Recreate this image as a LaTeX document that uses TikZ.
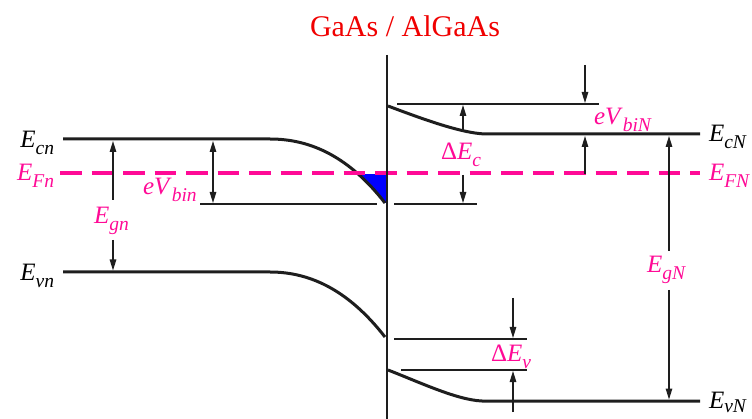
\documentclass[tikz,border=0pt]{standalone}
\usepackage{fontspec}
\setmainfont{Liberation Serif}
\usetikzlibrary{arrows.meta}
\definecolor{efpink}{RGB}{255,10,150}
\definecolor{bandk}{RGB}{30,30,30}
\definecolor{titlered}{RGB}{240,0,0}
\newcommand\lbl[2]{{\fontsize{25}{25}\selectfont #1}\raisebox{-6.5pt}{\fontsize{19.5}{19.5}\selectfont\itshape #2}}
\begin{document}
\begin{tikzpicture}[x=1pt,y=-1pt,
  band/.style={line width=3pt,bandk},
  refline/.style={line width=1.5pt,bandk},
  tipend/.style={-{Triangle[length=11pt,width=6.5pt]}},
  dimarrow/.style={line width=1.3pt,bandk,tipend},
  dimboth/.style={line width=1.3pt,bandk,{Triangle[length=11pt,width=6.5pt]}-{Triangle[length=11pt,width=6.5pt]}},
  fermi/.style={line width=4.5pt,efpink,dash pattern=on 21.5pt off 10pt},
  lab/.style={inner sep=0pt,outer sep=0pt},
  pinklab/.style={lab,text=efpink},
]
\useasboundingbox (0,0) rectangle (752,419);

% key points
\coordinate (Ecn0) at (63,139);
\coordinate (Ecn1) at (270,139);
\coordinate (Ecn2) at (385,203);
\coordinate (Evn0) at (63,272);
\coordinate (Evn1) at (270,272);
\coordinate (Evn2) at (385,337);
\coordinate (EcN0) at (388,106);
\coordinate (EcN1) at (485,134);
\coordinate (EcN2) at (700,134);
\coordinate (EvN0) at (388,370);
\coordinate (EvN1) at (482,401);
\coordinate (EvN2) at (700,401);
\coordinate (EFl) at (60,173);
\coordinate (EFr) at (700,173);
\coordinate (IfT) at (387,55);
\coordinate (IfB) at (387,419);
\coordinate (Ifm) at (387,203);
\coordinate (IfF) at (387,173);

% blue filled region
\begin{scope}
  \clip (340,175) rectangle (387,212);
  \fill[blue] (Ecn1) .. controls (312,139) and (350,158) .. (Ecn2) -- (Ifm) -- (IfF) -- cycle;
\end{scope}

% bands
\draw[band] (Ecn0) -- (Ecn1) .. controls (312,139) and (350,158) .. (Ecn2);
\draw[band] (Evn0) -- (Evn1) .. controls (312,272) and (350,292) .. (Evn2);
\draw[band] (EcN0) .. controls (420,118) and (460,133) .. (EcN1) -- (EcN2);
\draw[band] (EvN0) .. controls (419,382) and (457,400) .. (EvN1) -- (EvN2);

% Fermi level
\draw[fermi] (EFl) -- (EFr);

% interface
\draw[line width=1.5pt,bandk] (IfT) -- (IfB);

% reference lines
\coordinate (r1a) at (200,204); \coordinate (r1b) at (377,204);
\coordinate (r2a) at (394,204); \coordinate (r2b) at (477,204);
\coordinate (r3a) at (397,104); \coordinate (r3b) at (599,104);
\coordinate (r4a) at (394,339); \coordinate (r4b) at (527,339);
\coordinate (r5a) at (401,370); \coordinate (r5b) at (527,370);
\draw[refline] (r1a) -- (r1b);
\draw[refline] (r2a) -- (r2b);
\draw[refline] (r3a) -- (r3b);
\draw[refline] (r4a) -- (r4b);
\draw[refline] (r5a) -- (r5b);

% arrows
\coordinate (a1s) at (113,200); \coordinate (a1e) at (113,141);
\coordinate (a2s) at (113,240); \coordinate (a2e) at (113,270.5);
\coordinate (a3s) at (213,141); \coordinate (a3e) at (213,203);
\coordinate (a4s) at (463,132); \coordinate (a4e) at (463,105);
\coordinate (a5s) at (463,175); \coordinate (a5e) at (463,203);
\coordinate (a6s) at (585,65);  \coordinate (a6e) at (585,103);
\coordinate (a7s) at (585,174); \coordinate (a7e) at (585,136);
\coordinate (a8s) at (669,251); \coordinate (a8e) at (669,136);
\coordinate (a9s) at (669,290); \coordinate (a9e) at (669,399.5);
\coordinate (a10s) at (513,298); \coordinate (a10e) at (513,338);
\coordinate (a11s) at (513,412); \coordinate (a11e) at (513,371);
\draw[dimarrow] (a1s) -- (a1e);
\draw[dimarrow] (a2s) -- (a2e);
\draw[dimboth] (a3s) -- (a3e);
\draw[dimarrow] (a4s) -- (a4e);
\draw[dimarrow] (a5s) -- (a5e);
\draw[dimarrow] (a6s) -- (a6e);
\draw[dimarrow] (a7s) -- (a7e);
\draw[dimarrow] (a8s) -- (a8e);
\draw[dimarrow] (a9s) -- (a9e);
\draw[dimarrow] (a10s) -- (a10e);
\draw[dimarrow] (a11s) -- (a11e);

% labels
\node[lab,anchor=base,text=titlered,font=\fontsize{30}{30}\selectfont] (title) at (405,37) {GaAs / AlGaAs};
\node[lab,anchor=base east] (Ecnl) at (54,148) {\lbl{\textit{E}}{cn}};
\node[pinklab,anchor=base east] (EFnl) at (54,181) {\lbl{\textit{E}}{Fn}};
\node[lab,anchor=base east] (Evnl) at (54,281) {\lbl{\textit{E}}{vn}};
\node[lab,anchor=base west] (EcNl) at (709,142) {\lbl{\textit{E}}{cN}};
\node[pinklab,anchor=base west] (EFNl) at (709,181) {\lbl{\textit{E}}{FN}};
\node[lab,anchor=base west] (EvNl) at (709,408) {{\fontsize{25}{25}\selectfont\textit{E}}\raisebox{-4.5pt}{\fontsize{19.5}{19.5}\selectfont\itshape vN}};
\node[pinklab,anchor=base west] (Egnl) at (94,224) {\lbl{\textit{E}}{gn}};
\node[pinklab,anchor=base west] (eVbinl) at (143,195) {\lbl{\textit{eV}}{bin}};
\node[pinklab,anchor=base west] (dEcl) at (441,160) {\lbl{Δ\textit{E}}{c}};
\node[pinklab,anchor=base west] (eVbiNl) at (594,125) {\lbl{\textit{eV}}{biN}};
\node[pinklab,anchor=base west] (EgNl) at (647,273) {\lbl{\textit{E}}{gN}};
\node[pinklab,anchor=base west] (dEvl) at (491,362) {\lbl{Δ\textit{E}}{v}};
\end{tikzpicture}
\end{document}
